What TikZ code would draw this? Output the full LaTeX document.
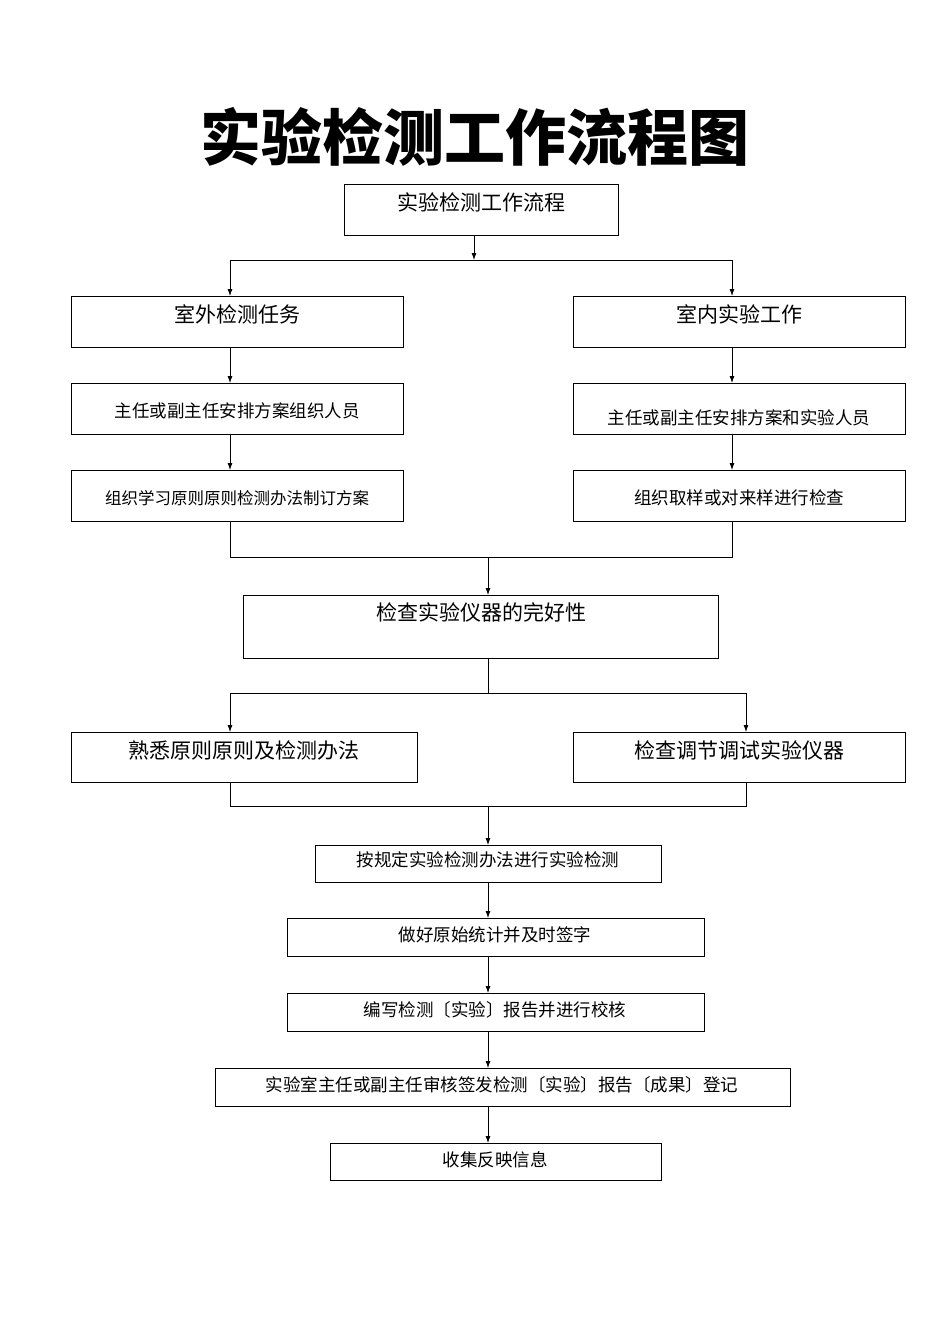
\documentclass[tikz,border=0pt]{standalone}
\usepackage{fontspec}
\setmainfont{Noto Sans CJK SC}
\usetikzlibrary{arrows.meta}
\begin{document}
\begin{tikzpicture}[x=1pt,y=-1pt,
  bx/.style={draw,line width=0.8pt,rectangle,inner sep=0pt,anchor=north west},
  tx/.style={inner sep=0pt,font=\fontsize{21}{24}\selectfont},
  sx/.style={inner sep=0pt,font=\fontsize{17.5}{20}\selectfont},
  ar/.style={-{Latex[length=7pt,width=5pt]},line width=0.8pt},
  ln/.style={line width=0.8pt}]
\useasboundingbox (0,0) rectangle (950,1344);
\node[inner sep=0pt,font=\fontsize{61}{66}\selectfont\bfseries] (title) at (475,137) {实验检测工作流程图};
\newcommand{\mybox}[5]{\node[bx,minimum width=#3-#2,minimum height=#5-#4] (#1) at (#2,#4) {};}
\mybox{b0}{344}{618}{184}{235}
\mybox{b1}{71}{403}{296}{347}
\mybox{b2}{573}{905}{296}{347}
\mybox{b3}{71}{403}{383}{434}
\mybox{b4}{573}{905}{383}{434}
\mybox{b5}{71}{403}{470}{521}
\mybox{b6}{573}{905}{470}{521}
\mybox{b7}{243}{718}{595}{658}
\mybox{b8}{71}{417}{732}{782}
\mybox{b9}{573}{905}{732}{782}
\mybox{b10}{315}{661}{845}{882}
\mybox{b11}{287}{704}{918}{956}
\mybox{b12}{287}{704}{993}{1031}
\mybox{b13}{215}{790}{1068}{1106}
\mybox{b14}{330}{661}{1143}{1180}
\node[tx] (t0) at (481,202) {实验检测工作流程};
\node[tx] (t1) at (237,314) {室外检测任务};
\node[tx] (t2) at (739,314) {室内实验工作};
\node[sx] (t3) at (237,411) {主任或副主任安排方案组织人员};
\node[sx] (t4) at (739,418) {主任或副主任安排方案和实验人员};
\node[inner sep=0pt,font=\fontsize{16.5}{19}\selectfont] (t5) at (237,498) {组织学习原则原则检测办法制订方案};
\node[sx] (t6) at (739,498) {组织取样或对来样进行检查};
\node[tx] (t7) at (481,612) {检查实验仪器的完好性};
\node[tx] (t8) at (244,750) {熟悉原则原则及检测办法};
\node[tx] (t9) at (739,750) {检查调节调试实验仪器};
\node[sx] (t10) at (488,860) {按规定实验检测办法进行实验检测};
\node[sx] (t11) at (495,935) {做好原始统计并及时签字};
\node[sx] (t12) at (495,1010) {编写检测〔实验〕报告并进行校核};
\node[sx] (t13) at (502,1085) {实验室主任或副主任审核签发检测〔实验〕报告〔成果〕登记};
\node[sx] (t14) at (495,1160) {收集反映信息};
\coordinate (s0) at (474,260);
\draw[ar] (474,235) -- (s0);
\draw[ln] (230,260) -- (732,260);
\draw[ar] (230,260) -- (230,296);
\draw[ar] (732,260) -- (732,296);
\draw[ar] (230,347) -- (230,383);
\draw[ar] (732,347) -- (732,383);
\draw[ar] (230,434) -- (230,470);
\draw[ar] (732,434) -- (732,470);
\draw[ln] (230,521) -- (230,557) -- (732,557) -- (732,521);
\draw[ar] (488,557) -- (488,595);
\draw[ln] (488,658) -- (488,693);
\draw[ln] (230,693) -- (746,693);
\draw[ar] (230,693) -- (230,732);
\draw[ar] (746,693) -- (746,732);
\draw[ln] (230,782) -- (230,806) -- (746,806) -- (746,782);
\draw[ar] (488,806) -- (488,845);
\draw[ar] (488,882) -- (488,918);
\draw[ar] (488,956) -- (488,993);
\draw[ar] (488,1031) -- (488,1068);
\draw[ar] (488,1106) -- (488,1143);
\end{tikzpicture}
\end{document}
